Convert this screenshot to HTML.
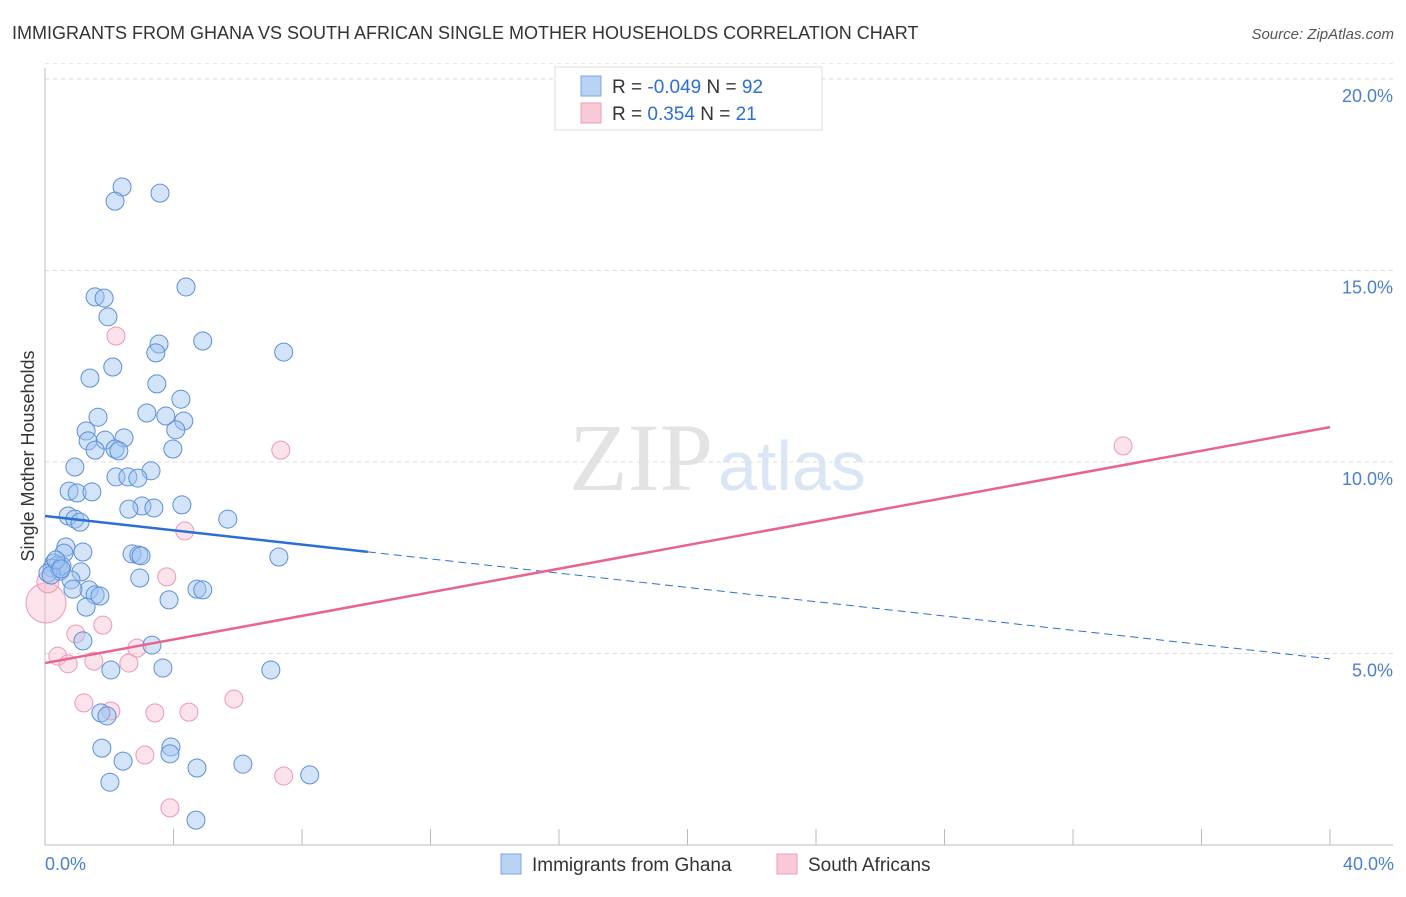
<!DOCTYPE html>
<html><head><meta charset="utf-8"><style>
body{margin:0;background:#fff;font-family:"Liberation Sans",sans-serif}
svg text{font-family:"Liberation Sans",sans-serif}
</style></head><body>
<svg id="c" width="1406" height="892">
<text x="12" y="39" font-size="18" fill="#333">IMMIGRANTS FROM GHANA VS SOUTH AFRICAN SINGLE MOTHER HOUSEHOLDS CORRELATION CHART</text>
<text x="1394" y="39" font-size="15" fill="#555" font-style="italic" text-anchor="end">Source: ZipAtlas.com</text>
<text x="713" y="490" font-size="96" fill="#e3e3e3" text-anchor="end" font-family="Liberation Serif" style="font-family:'Liberation Serif',serif">ZIP</text>
<text x="718" y="490" font-size="70" fill="#dbe6f5">atlas</text>
<g id="grid"></g><g id="axes"></g><g id="marks"></g>
<text transform="translate(34,456) rotate(-90)" font-size="18" fill="#333" text-anchor="middle">Single Mother Households</text>
<text x="45" y="870" font-size="18" fill="#4a7fd0">0.0%</text>
<text x="1394" y="870" font-size="18" fill="#4a7fd0" text-anchor="end">40.0%</text>
<g>
<rect x="555" y="67" width="267" height="63" fill="#fff" stroke="#ddd"/>
<rect x="581" y="76" width="20" height="20" fill="#b9d3f5" stroke="#7aa6e0"/>
<rect x="581" y="103" width="20" height="20" fill="#f9c9d7" stroke="#eba0b8"/>
<text x="612" y="93" font-size="19" fill="#333">R = <tspan fill="#2a6fd6">-0.049</tspan>   N = <tspan fill="#2a6fd6">92</tspan></text>
<text x="612" y="120" font-size="19" fill="#333">R =   <tspan fill="#2a6fd6">0.354</tspan>   N =  <tspan fill="#2a6fd6">21</tspan></text>
</g>
<g>
<rect x="501" y="854" width="20" height="20" fill="#b9d3f5" stroke="#7aa6e0"/>
<text x="532" y="871" font-size="19" fill="#333">Immigrants from Ghana</text>
<rect x="777" y="854" width="20" height="20" fill="#f9c9d7" stroke="#eba0b8"/>
<text x="808" y="871" font-size="19" fill="#333">South Africans</text>
</g>
</svg>
<script>
const yTicks=[5,10,15,20];
const yTickLabels=["5.0%","10.0%","15.0%","20.0%"];
const xTicks=[0,4,8,12,16,20,24,28,32,36,40];
const ghanaX=[2.40,2.18,3.58,1.56,1.84,4.39,1.96,4.91,3.55,3.45,7.43,2.11,1.40,3.48,4.23,3.17,3.76,1.65,4.32,1.28,4.07,2.46,1.87,1.34,1.56,2.18,2.30,3.98,0.93,3.30,2.21,2.58,2.89,0.75,1.00,1.46,4.26,3.02,3.39,2.61,5.69,0.72,0.93,1.09,0.65,0.59,1.18,2.71,2.92,2.99,7.28,0.28,0.40,0.22,0.47,0.53,0.09,1.12,0.19,0.81,2.95,1.37,4.73,4.91,0.87,1.56,1.71,1.28,3.86,3.33,1.18,2.05,3.67,7.03,1.74,1.93,1.77,3.92,3.89,2.43,6.16,4.73,8.24,2.02,4.70,0.34,0.50];
const ghanaY=[17.18,16.81,17.02,14.31,14.28,14.57,13.79,13.16,13.08,12.85,12.87,12.48,12.19,12.04,11.64,11.28,11.20,11.17,11.07,10.81,10.84,10.63,10.57,10.55,10.31,10.34,10.29,10.34,9.87,9.77,9.61,9.61,9.58,9.24,9.19,9.22,8.88,8.85,8.80,8.77,8.51,8.59,8.51,8.43,7.78,7.62,7.65,7.60,7.57,7.55,7.52,7.36,7.31,7.23,7.15,7.28,7.10,7.13,7.05,6.92,6.97,6.66,6.68,6.66,6.68,6.53,6.50,6.21,6.40,5.22,5.33,4.57,4.62,4.57,3.45,3.37,2.53,2.56,2.38,2.19,2.11,2.01,1.83,1.64,0.65,7.44,7.21];
const saX=[0.03,0.09,2.21,7.34,33.56,4.35,3.79,1.80,0.96,2.86,0.40,0.72,1.52,2.61,1.21,2.05,3.42,4.48,5.88,3.11,7.43,3.89];
const saY=[6.32,6.87,13.29,10.31,10.42,8.20,7.00,5.74,5.51,5.14,4.93,4.73,4.80,4.75,3.71,3.50,3.45,3.47,3.81,2.35,1.80,0.97];
const saR=[20,11,9,9,9,9,9,9,9,9,9,9,9,9,9,9,9,9,9,9,9,9];
const ghanaTrend=[8.59,4.86]; const ghanaSolidEnd=10.05;
const saTrend=[4.75,10.91];
const X=v=>45+v/40*1285, Y=v=>845-v*38.3;
const NS="http://www.w3.org/2000/svg";
function mk(t,a,p){const e=document.createElementNS(NS,t);for(const k in a)e.setAttribute(k,a[k]);document.getElementById(p).appendChild(e);return e;}
yTicks.forEach((t,i)=>{
 let l=mk('line',{x1:45,x2:1393,y1:Y(t),y2:Y(t),stroke:'#ddd','stroke-dasharray':'4,4'},'grid');
 
 
 let tx=mk('text',{x:1393,y:Y(t)+23,'font-size':18,fill:'#4a7fd0','text-anchor':'end'},'grid');
 tx.textContent=yTickLabels[i];
 
 
});
let tl=mk('line',{x1:45,x2:1393,y1:Y(20.4),y2:Y(20.4),stroke:'#e6e6e6','stroke-dasharray':'4,4'},'grid');


let ya=mk('line',{x1:45,x2:45,y1:68,y2:845,stroke:'#bbb'},'axes');


let xa=mk('line',{x1:45,x2:1393,y1:845,y2:845,stroke:'#bbb'},'axes');


xTicks.forEach(t=>{
 let l=mk('line',{x1:X(t),x2:X(t),y1:829,y2:845,stroke:'#bbb'},'axes');
 
 
});
saX.forEach((x,i)=>{
 let c=mk('circle',{cx:X(x),cy:Y(saY[i]),r:saR[i],fill:'rgba(248,182,202,0.4)',stroke:'#eb9ab4','stroke-width':1},'marks');
 
 
});
ghanaX.forEach((x,i)=>{
 let c=mk('circle',{cx:X(x),cy:Y(ghanaY[i]),r:9,fill:'rgba(160,196,240,0.45)',stroke:'#5b8fd8','stroke-width':1},'marks');
 
 
});
const gy=x=>ghanaTrend[0]+(ghanaTrend[1]-ghanaTrend[0])*x/40;
let g1=mk('line',{x1:X(0),y1:Y(gy(0)),x2:X(ghanaSolidEnd),y2:Y(gy(ghanaSolidEnd)),stroke:'#2a6fd6','stroke-width':2.5},'marks');


let g2=mk('line',{x1:X(ghanaSolidEnd),y1:Y(gy(ghanaSolidEnd)),x2:X(40),y2:Y(gy(40)),stroke:'#2a6fd6','stroke-width':1,'stroke-dasharray':'8,5'},'marks');


let s1=mk('line',{x1:X(0),y1:Y(saTrend[0]),x2:X(40),y2:Y(saTrend[1]),stroke:'#e8648e','stroke-width':2.5},'marks');


</script>
</body></html>
